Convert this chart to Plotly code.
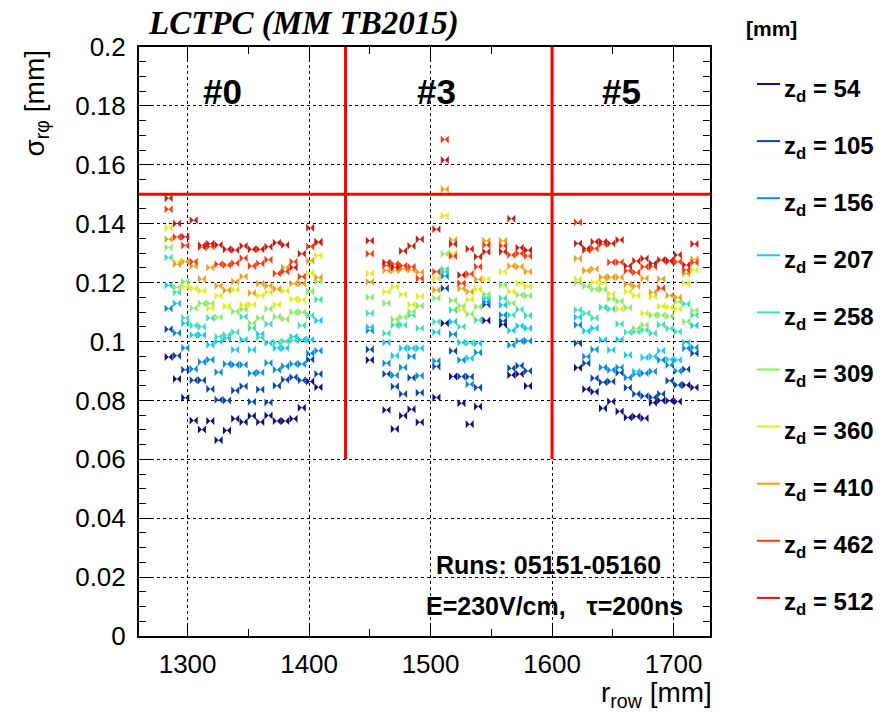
import plotly.graph_objects as go

# ---------------- data ----------------
# pad-row radii [mm] for the three modules (#0, #3, #5)
rows_m0 = [1284.4, 1291.3, 1298.1, 1305.0, 1311.8, 1318.7, 1325.5, 1332.4, 1339.2, 1346.1,
           1352.9, 1359.8, 1366.6, 1373.5, 1380.3, 1387.2, 1394.0, 1400.9, 1407.7]
rows_m3 = [1450.0, 1463.7, 1470.6, 1477.4, 1484.3, 1491.1, 1504.8, 1511.7, 1518.5, 1525.4,
           1532.2, 1539.1, 1545.9, 1559.6, 1566.5, 1573.3, 1580.2]
rows_m5 = [1621.3, 1628.2, 1635.0, 1641.9, 1648.7, 1655.6, 1662.4, 1669.3, 1676.1, 1683.0,
           1689.8, 1696.7, 1703.5, 1710.4, 1717.2]
r_row = rows_m0 + rows_m3 + rows_m5

drift_z = [54, 105, 156, 207, 258, 309, 360, 410, 462, 512]
colors = ["#10107e", "#0a48a8", "#0a8ee0", "#18c8f5", "#40e0b4",
          "#8eea6a", "#dcf020", "#f0a020", "#ff3a12", "#c81e14"]

# sigma_rphi [mm]; each list = module #0 rows, module #3 rows, module #5 rows
sig_054 = [.0947, .0873, .0809, .0732, .0701, .0730, .0665, .0698, .0738, .0727, .0747, .0727, .0749, .0730, .0730, .0738, .0775, .0864, .0845,
           .0937, .0767, .0703, .0748, .0770, .0726, .0810, .1062, .0881, .0790, .0719, .0779, .1071, .1058, .0886, .0890, .0849,
           .0911, .0838, .0829, .0773, .0796, .0762, .0742, .0745, .0739, .0792, .0800, .0799, .0796, .0852, .0844]
sig_105 = [.1042, .0952, .0904, .0868, .0868, .0839, .0802, .0800, .0834, .0848, .0795, .0837, .0793, .0850, .0870, .0879, .0868, .0939, .0890,
           .0973, .0890, .0847, .0822, .0877, .0826, .0915, .1181, .0968, .0881, .0880, .0844, .1126, .1070, .0909, .0918, .0900,
           .0994, .0926, .0875, .0862, .0864, .0894, .0843, .0822, .0815, .0810, .0822, .0867, .0852, .0906, .0960]
sig_156 = [.1112, .1029, .0978, .0907, .0930, .0938, .0896, .0924, .0921, .0921, .0892, .0895, .0927, .0904, .0916, .0924, .0924, .0960, .0969,
           .1037, .0926, .0885, .0912, .0949, .0884, .0934, .1222, .1025, .0937, .0855, .0963, .1135, .1090, .0988, .1002, .1002,
           .1056, .0949, .0973, .0912, .0903, .0912, .0878, .0890, .0892, .0898, .0937, .0920, .0900, .0977, .0979]
sig_207 = [.1191, .1129, .1062, .1022, .1022, .0989, .1000, .1012, .0972, .1006, .0972, .1025, .0995, .0978, .0978, .1016, .1006, .1006, .1071,
           .1048, .0997, .0952, .0977, .0977, .0977, .1031, .1237, .1067, .0997, .0943, .0994, .1146, .1124, .1037, .1053, .1045,
           .1082, .1036, .1045, .1005, .0971, .1007, .0954, .0898, .0946, .0949, .0969, .0939, .0937, .0997, .1054]
sig_258 = [.1285, .1167, .1080, .1054, .1050, .1080, .1016, .1022, .1031, .1084, .1046, .1014, .1059, .0997, .1001, .1003, .1054, .1088, .1143,
           .1096, .1028, .1056, .1056, .1090, .1045, .1067, .1245, .1107, .1050, .0995, .1073, .1150, .1147, .1090, .1109, .1088,
           .1107, .1096, .1080, .1116, .1110, .1059, .1031, .1034, .1039, .1028, .1057, .1044, .1033, .1127, .1090]
sig_309 = [.1319, .1183, .1203, .1113, .1129, .1129, .1082, .1119, .1102, .1110, .1062, .1080, .1111, .1084, .1076, .1099, .1099, .1170, .1204,
           .1150, .1130, .1075, .1082, .1100, .1121, .1147, .1297, .1139, .1120, .1093, .1118, .1160, .1192, .1130, .1158, .1155,
           .1200, .1188, .1178, .1177, .1144, .1137, .1115, .1044, .1056, .1089, .1089, .1086, .1135, .1067, .1105]
sig_360 = [.1386, .1271, .1186, .1180, .1172, .1112, .1155, .1120, .1176, .1124, .1125, .1155, .1167, .1125, .1172, .1144, .1142, .1232, .1292,
           .1231, .1169, .1186, .1160, .1126, .1154, .1215, .1427, .1300, .1109, .1143, .1177, .1211, .1237, .1169, .1198, .1186,
           .1211, .1243, .1201, .1201, .1161, .1110, .1171, .1156, .1096, .1152, .1120, .1116, .1110, .1198, .1243]
sig_410 = [.1347, .1262, .1271, .1256, .1212, .1251, .1189, .1174, .1204, .1221, .1165, .1197, .1189, .1178, .1251, .1197, .1197, .1274, .1217,
           .1203, .1241, .1241, .1246, .1243, .1235, .1175, .1517, .1345, .1180, .1169, .1211, .1342, .1342, .1256, .1254, .1237,
           .1282, .1240, .1246, .1218, .1218, .1218, .1194, .1188, .1214, .1167, .1212, .1156, .1149, .1231, .1279]
sig_462 = [.1449, .1355, .1326, .1271, .1320, .1323, .1262, .1260, .1266, .1283, .1256, .1265, .1278, .1231, .1238, .1271, .1220, .1323, .1335,
           .1298, .1258, .1263, .1257, .1254, .1214, .1237, .1686, .1290, .1198, .1229, .1254, .1328, .1325, .1294, .1299, .1290,
           .1405, .1310, .1316, .1331, .1269, .1269, .1240, .1234, .1254, .1255, .1181, .1271, .1271, .1243, .1268]
sig_512 = [.1486, .1401, .1356, .1412, .1327, .1332, .1328, .1313, .1311, .1324, .1313, .1313, .1322, .1335, .1328, .1251, .1298, .1386, .1339,
           .1342, .1268, .1252, .1307, .1324, .1347, .1381, .1616, .1331, .1226, .1314, .1288, .1305, .1305, .1417, .1318, .1310,
           .1333, .1316, .1339, .1339, .1333, .1345, .1256, .1273, .1282, .1265, .1277, .1275, .1294, .1260, .1331]
sigmas = [sig_054, sig_105, sig_156, sig_207, sig_258, sig_309, sig_360, sig_410, sig_462, sig_512]

module_labels = ["#0", "#3", "#5"]
module_label_x = [1329, 1505, 1657]
module_edges = [1430, 1600]
sigma_cut = 0.15

# ---------------- figure ----------------
W, H = 896, 719
L, R, T, B = 139, 710, 47, 636
X0, X1 = 1260, 1730
Y0, Y1 = 0.0, 0.2


def px(xp):
    return (xp - L) / (R - L)


def py(yp):
    return (B - yp) / (B - T)


FONT = "Liberation Sans, Arial, sans-serif"

fig = go.Figure()
for z, c, s in zip(drift_z, colors, sigmas):
    fig.add_trace(go.Scatter(
        x=r_row, y=s, mode="markers", name=f"z_d = {z}",
        marker=dict(symbol="bowtie", size=8, color=c, line=dict(width=0)),
        showlegend=False))

axis_common = dict(
    showline=True, linecolor="black", linewidth=2, mirror="allticks",
    ticks="inside", ticklen=13, tickwidth=1, tickcolor="black",
    showgrid=True, gridcolor="black", gridwidth=1, griddash="dot",
    zeroline=False, tickfont=dict(family=FONT, size=26, color="black"),
)
fig.update_xaxes(range=[X0, X1], tick0=1300, dtick=100, ticklabelstandoff=4,
                 minor=dict(ticks="inside", ticklen=7, dtick=50, tick0=1300,
                            tickcolor="black", showgrid=False),
                 **axis_common)
fig.update_yaxes(range=[Y0, Y1], tick0=0, dtick=0.02, ticklabelstandoff=6,
                 minor=dict(ticks="inside", ticklen=7, dtick=0.005, tick0=0,
                            tickcolor="black", showgrid=False),
                 **axis_common)

shapes = []
for xe in module_edges:
    shapes.append(dict(type="line", xref="x", yref="y", x0=xe, x1=xe, y0=0.06, y1=Y1,
                       line=dict(color="#ff0000", width=3)))
shapes.append(dict(type="line", xref="x", yref="y", x0=X0, x1=X1, y0=sigma_cut, y1=sigma_cut,
                   line=dict(color="#ff0000", width=3)))

ann = []
# title
ann.append(dict(text="<b><i>LCTPC (MM TB2015)</i></b>", xref="paper", yref="paper",
                x=px(146), y=py(23), xanchor="left", yanchor="middle", showarrow=False,
                font=dict(family="Liberation Serif, Times New Roman, serif", size=33, color="black")))
# axis titles
ann.append(dict(text="σ<sub>rφ</sub> [mm]", xref="paper", yref="paper", textangle=-90,
                x=px(36), y=py(48), xanchor="center", yanchor="top", showarrow=False,
                font=dict(family=FONT, size=28, color="black")))
ann.append(dict(text="r<sub>row</sub> [mm]", xref="paper", yref="paper",
                x=px(714), y=py(694), xanchor="right", yanchor="middle", showarrow=False,
                font=dict(family=FONT, size=28, color="black")))
# module labels
for lab, xm in zip(module_labels, module_label_x):
    ann.append(dict(text=f"<b>{lab}</b>", xref="x", yref="paper", x=xm, y=py(91),
                    xanchor="center", yanchor="middle", showarrow=False,
                    font=dict(family=FONT, size=35, color="black")))
# run info
ann.append(dict(text="<b>Runs: 05151-05160</b>", xref="paper", yref="paper",
                x=px(548), y=py(565), xanchor="center", yanchor="middle", showarrow=False,
                font=dict(family=FONT, size=25, color="black")))
ann.append(dict(text="<b>E=230V/cm,   τ=200ns</b>", xref="paper", yref="paper",
                x=px(554), y=py(606), xanchor="center", yanchor="middle", showarrow=False,
                font=dict(family=FONT, size=25, color="black")))

# legend (drawn manually to reproduce ROOT TLegend layout)
ann.append(dict(text="<b>[mm]</b>", xref="paper", yref="paper", x=px(771), y=py(28),
                xanchor="center", yanchor="middle", showarrow=False,
                font=dict(family=FONT, size=21, color="black")))
leg_y0, leg_dy = 84, 57.1
for i, (z, c) in enumerate(zip(drift_z, colors)):
    yy = leg_y0 + i * leg_dy
    shapes.append(dict(type="line", xref="paper", yref="paper", x0=px(757), x1=px(780),
                       y0=py(yy), y1=py(yy), line=dict(color=c, width=2)))
    ann.append(dict(text=f"<b>z<sub>d</sub> = {z}</b>", xref="paper", yref="paper",
                    x=px(782), y=py(yy + 6), xanchor="left", yanchor="middle", showarrow=False,
                    font=dict(family=FONT, size=24, color="black")))

fig.update_layout(width=W, height=H, margin=dict(l=L, r=W - R, t=T, b=H - B),
                  plot_bgcolor="white", paper_bgcolor="white", showlegend=False,
                  shapes=shapes, annotations=ann)

fig.write_html("out.html")
